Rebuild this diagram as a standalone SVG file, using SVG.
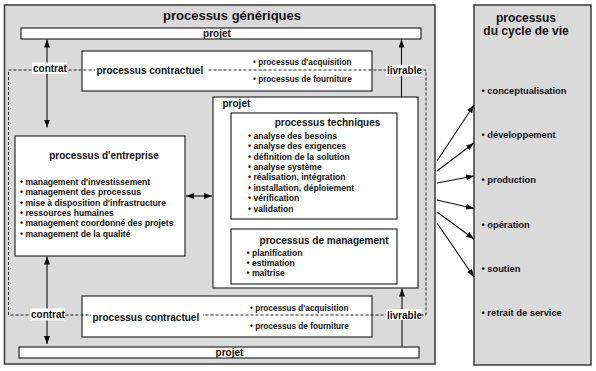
<svg xmlns="http://www.w3.org/2000/svg" width="596" height="371" viewBox="0 0 596 371">
  <style>
    text { font-family: "Liberation Sans", Arial, sans-serif; font-weight: bold; fill: #111; }
    .panel { fill: #dadada; stroke: #3a3a3a; stroke-width: 1.5; }
    .box { fill: #ffffff; stroke: #2a2a2a; stroke-width: 1.2; }
    .bg { fill: #ffffff; }
    .t13 { font-size: 13px; }
    .t12 { font-size: 12px; }
    .t10 { font-size: 10px; }
    .t9 { font-size: 9.3px; }
    .t8 { font-size: 8.6px; }
    .t8s { font-size: 8.2px; }
    .mid { text-anchor: middle; }
    .dash { fill: none; stroke: #222; stroke-width: 1; stroke-dasharray: 3 2; }
    .arrow { fill: none; stroke: #111; stroke-width: 1.1; }
  </style>
  <defs>
    <marker id="head" viewBox="0 0 8 6" refX="8" refY="3" markerWidth="8" markerHeight="6" markerUnits="userSpaceOnUse" orient="auto-start-reverse">
      <path d="M0,0 L8,3 L0,6 z" fill="#111"/>
    </marker>
  </defs>

  <rect width="596" height="371" fill="#ffffff"/>

  <!-- generic processes panel -->
  <g id="generiques">
    <rect class="panel" x="4.5" y="5" width="430.5" height="359"/>
    <text class="t13 mid" x="232" y="19.5">processus génériques</text>
  </g>

  <!-- life cycle panel -->
  <g id="cycle-de-vie">
    <rect class="panel" x="474" y="5" width="117" height="360"/>
    <text class="t12 mid" x="526" y="21.5">processus</text>
    <text class="t12 mid" x="526" y="34.5">du cycle de vie</text>
    <text class="t9" x="481.5" y="93.5">•  conceptualisation</text>
    <text class="t9" x="481.5" y="137.5">• développement</text>
    <text class="t9" x="481.5" y="183">• production</text>
    <text class="t9" x="481.5" y="227.5">• opération</text>
    <text class="t9" x="481.5" y="271.5">• soutien</text>
    <text class="t9" x="481.5" y="316">• retrait de service</text>
  </g>

  <!-- project bars -->
  <g id="projet-haut">
    <rect class="box" x="21" y="28" width="400" height="11"/>
    <text class="t10 mid" x="217" y="36.5">projet</text>
  </g>
  <g id="projet-bas">
    <rect class="box" x="19" y="347" width="400" height="11"/>
    <text class="t10 mid" x="229.5" y="355.5">projet</text>
  </g>

  <!-- contractual processes -->
  <g id="contractuel-haut">
    <rect class="box" x="82" y="51" width="290" height="40"/>
    <text class="t8s" x="253" y="64.5">• processus d'acquisition</text>
    <text class="t8s" x="253" y="82">• processus de fourniture</text>
  </g>
  <g id="contractuel-bas">
    <rect class="box" x="82" y="296" width="290" height="41"/>
    <text class="t8s" x="250" y="311">• processus d'acquisition</text>
    <text class="t8s" x="250" y="328.5">• processus de fourniture</text>
  </g>

  <!-- enterprise processes -->
  <g id="entreprise">
    <rect class="box" x="15" y="136" width="170" height="120"/>
    <text class="t10 mid" x="104" y="158.5">processus d'entreprise</text>
    <text class="t8" x="20" y="185">• management d'investissement</text>
    <text class="t8" x="20" y="195.3">• management des processus</text>
    <text class="t8" x="20" y="205.6">• mise à disposition d'infrastructure</text>
    <text class="t8" x="20" y="215.9">• ressources humaines</text>
    <text class="t8" x="20" y="226.2">• management coordonné des projets</text>
    <text class="t8" x="20" y="236.5">• management de la qualité</text>
  </g>

  <!-- project with technical and management processes -->
  <g id="projet">
    <rect class="box" x="213" y="97" width="205" height="191"/>
    <text class="t10" x="222.5" y="106.5">projet</text>
  </g>
  <g id="techniques">
    <rect class="box" x="231" y="113" width="166" height="106"/>
    <text class="t10 mid" x="327.5" y="126">processus techniques</text>
    <text class="t8" x="248" y="138.7">• analyse des besoins</text>
    <text class="t8" x="248" y="149.1">• analyse des exigences</text>
    <text class="t8" x="248" y="159.5">• définition de la solution</text>
    <text class="t8" x="248" y="169.9">• analyse système</text>
    <text class="t8" x="248" y="180.3">• réalisation, intégration</text>
    <text class="t8" x="248" y="190.7">• installation, déploiement</text>
    <text class="t8" x="248" y="201.1">• vérification</text>
    <text class="t8" x="248" y="211.5">• validation</text>
  </g>
  <g id="management">
    <rect class="box" x="231" y="229" width="166" height="55"/>
    <text class="t10 mid" x="324" y="243.5">processus de management</text>
    <text class="t8" x="246.5" y="255.7">• planification</text>
    <text class="t8" x="246.5" y="266">• estimation</text>
    <text class="t8" x="246.5" y="276.3">• maîtrise</text>
  </g>

  <!-- connectors -->
  <g id="connecteurs">
    <!-- contract / delivery loop -->
    <path class="dash" d="M8.5,70 H426 V315 H8.5 Z"/>
    <!-- contract and deliverable flows -->
    <line class="arrow" x1="47" y1="39.5" x2="47" y2="127.5" marker-start="url(#head)" marker-end="url(#head)"/>
    <line class="arrow" x1="47" y1="256.5" x2="47" y2="344" marker-start="url(#head)" marker-end="url(#head)"/>
    <line class="arrow" x1="186" y1="196" x2="212" y2="196" marker-start="url(#head)" marker-end="url(#head)"/>
    <line class="arrow" x1="401.5" y1="96.5" x2="401.5" y2="39.5" marker-end="url(#head)"/>
    <line class="arrow" x1="402" y1="346.5" x2="402" y2="288.5" marker-end="url(#head)"/>
    <!-- project to life cycle stages -->
    <line class="arrow" x1="437" y1="161" x2="474" y2="105" marker-end="url(#head)"/>
    <line class="arrow" x1="437" y1="171" x2="474" y2="143" marker-end="url(#head)"/>
    <line class="arrow" x1="437" y1="183" x2="474" y2="176" marker-end="url(#head)"/>
    <line class="arrow" x1="437" y1="200" x2="474" y2="208.5" marker-end="url(#head)"/>
    <line class="arrow" x1="437" y1="212" x2="474" y2="239" marker-end="url(#head)"/>
    <line class="arrow" x1="437" y1="223" x2="474" y2="277" marker-end="url(#head)"/>
  </g>

  <!-- labels laid over the loop -->
  <g id="etiquettes">
    <rect class="bg" x="32" y="62.5" width="35" height="11.5"/>
    <text class="t10" x="33" y="72">contrat</text>
    <rect class="bg" x="30" y="308.5" width="35" height="12"/>
    <text class="t10" x="31" y="318">contrat</text>
    <rect class="bg" x="386" y="65" width="36" height="11"/>
    <text class="t10" x="387" y="74">livrable</text>
    <rect class="bg" x="386" y="309" width="36" height="11"/>
    <text class="t10" x="387" y="318.5">livrable</text>
    <rect class="bg" x="95" y="65" width="112" height="11"/>
    <text class="t10" x="96.5" y="74">processus contractuel</text>
    <rect class="bg" x="91" y="312" width="112" height="11"/>
    <text class="t10" x="92.5" y="321">processus contractuel</text>
  </g>
</svg>
